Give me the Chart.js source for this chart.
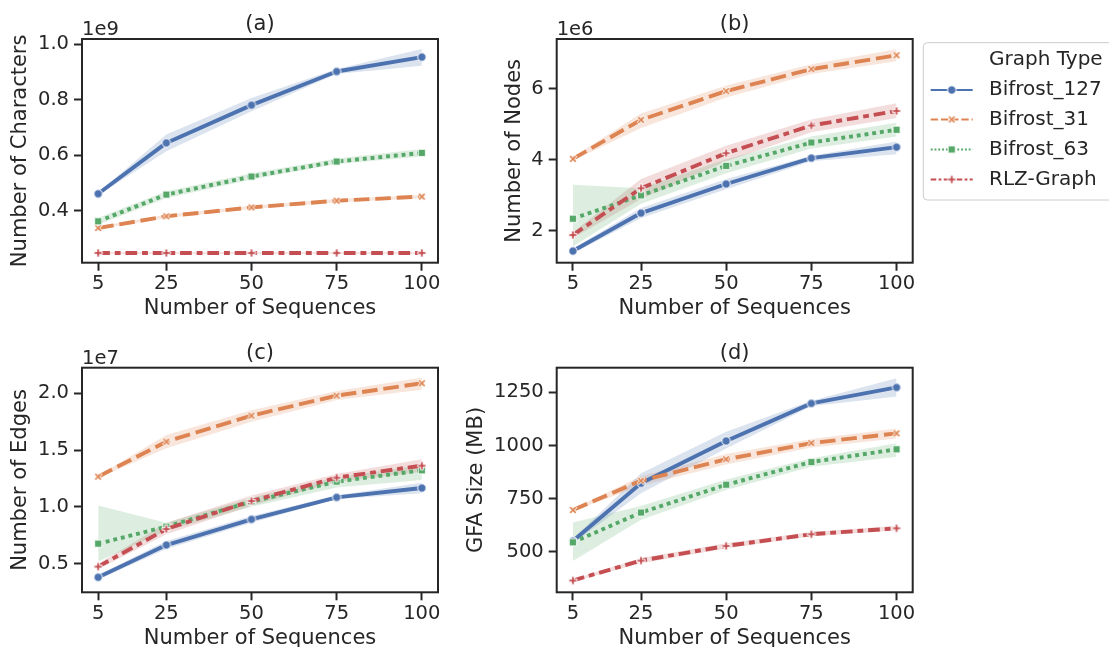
<!DOCTYPE html>
<html>
<head>
<meta charset="utf-8">
<script src="https://cdn.jsdelivr.net/npm/chart.js@4.4.0/dist/chart.umd.min.js"></script>
<style>
  body { margin: 0; background: #ffffff; }
  #wrap { position: relative; width: 1109px; height: 647px; overflow: hidden; }
  #wrap canvas { position: absolute; left: 0; top: 0; }
</style>
</head>
<body>
<div id="wrap">
  <canvas id="chartA" width="1109" height="680"></canvas>
  <canvas id="chartB" width="1109" height="680"></canvas>
  <canvas id="chartC" width="1109" height="680"></canvas>
  <canvas id="chartD" width="1109" height="680"></canvas>
</div>
<script>
const seqCounts = [5, 25, 50, 75, 100];
const xTicks = [5, 25, 50, 75, 100];
const graphTypes = ["Bifrost_127", "Bifrost_31", "Bifrost_63", "RLZ-Graph"];

// rows follow graphTypes; mean with lower / upper edge of the error band

// number of characters (x 1e9)
const charMean = [
  [0.461, 0.644, 0.780, 0.901, 0.953],
  [0.338, 0.380, 0.412, 0.436, 0.451],
  [0.362, 0.458, 0.523, 0.577, 0.608],
  [0.248, 0.248, 0.248, 0.248, 0.248],
];
const charLow = [
  [0.456, 0.614, 0.758, 0.892, 0.922],
  [0.333, 0.374, 0.406, 0.430, 0.445],
  [0.350, 0.445, 0.512, 0.568, 0.595],
  [0.245, 0.245, 0.245, 0.245, 0.245],
];
const charHigh = [
  [0.466, 0.674, 0.806, 0.910, 0.982],
  [0.343, 0.386, 0.418, 0.442, 0.457],
  [0.375, 0.470, 0.535, 0.588, 0.622],
  [0.251, 0.251, 0.251, 0.251, 0.251],
];
const charTicks = [0.4, 0.6, 0.8, 1.0];

// number of nodes (x 1e6)
const nodeMean = [
  [1.43, 2.50, 3.32, 4.05, 4.36],
  [4.03, 5.13, 5.94, 6.56, 6.95],
  [2.34, 3.00, 3.83, 4.49, 4.85],
  [1.88, 3.20, 4.19, 4.97, 5.38],
];
const nodeLow = [
  [1.36, 2.36, 3.17, 3.96, 4.16],
  [3.98, 4.90, 5.76, 6.42, 6.78],
  [1.56, 2.76, 3.62, 4.32, 4.66],
  [1.80, 2.90, 3.96, 4.78, 5.18],
];
const nodeHigh = [
  [1.50, 2.64, 3.46, 4.12, 4.52],
  [4.08, 5.31, 6.10, 6.70, 7.12],
  [3.30, 3.20, 4.02, 4.66, 5.05],
  [1.96, 3.46, 4.40, 5.14, 5.60],
];
const nodeTicks = [2, 4, 6];

// number of edges (x 1e7)
const edgeMean = [
  [0.380, 0.664, 0.890, 1.084, 1.166],
  [1.266, 1.574, 1.803, 1.979, 2.088],
  [0.676, 0.826, 1.046, 1.222, 1.322],
  [0.474, 0.805, 1.052, 1.257, 1.363],
];
const edgeLow = [
  [0.360, 0.630, 0.860, 1.070, 1.120],
  [1.255, 1.516, 1.750, 1.940, 2.030],
  [0.520, 0.790, 1.000, 1.170, 1.237],
  [0.450, 0.760, 1.010, 1.220, 1.310],
];
const edgeHigh = [
  [0.400, 0.700, 0.920, 1.100, 1.213],
  [1.277, 1.633, 1.850, 2.020, 2.138],
  [1.011, 0.860, 1.080, 1.260, 1.369],
  [0.500, 0.860, 1.100, 1.290, 1.419],
];
const edgeTicks = [0.5, 1.0, 1.5, 2.0];

// GFA file size in MB
const gfaMean = [
  [550, 822, 1021, 1198, 1273],
  [696, 834, 935, 1011, 1057],
  [544, 684, 815, 922, 982],
  [364, 458, 527, 582, 610],
];
const gfaLow = [
  [540, 775, 986, 1185, 1230],
  [690, 810, 910, 990, 1033],
  [456, 650, 790, 900, 947],
  [359, 445, 515, 572, 600],
];
const gfaHigh = [
  [560, 869, 1065, 1210, 1316],
  [702, 855, 960, 1030, 1080],
  [637, 715, 840, 940, 1010],
  [369, 470, 540, 592, 622],
];
const gfaTicks = [500, 750, 1000, 1250];

// seaborn "deep" palette
const lineColours = ["#4c72b0", "#dd8452", "#55a868", "#c44e52"];
const bandColours = [
  "rgba(76,114,176,0.2)",
  "rgba(221,132,82,0.2)",
  "rgba(85,168,104,0.2)",
  "rgba(196,78,82,0.2)",
];
const LW = 3.9;
const lineDashes = [[], [4 * LW, 1.5 * LW], [LW, LW], [3 * LW, 1.25 * LW, 1.5 * LW, 1.25 * LW]];
const legendDashes = [[], [7.4, 2.8], [1.9, 1.9], [5.6, 2.3, 2.8, 2.3]];

const FONT = "'DejaVu Sans', sans-serif";
const INK = "#262626";
const CANVAS_H = 680;
const TICK_SIZE = 19.5;
const LABEL_SIZE = 21;

// marker glyphs: filled circle, X, square, P with a thin white edge
function crossPoints(a, t) {
  return [[-t, -a], [t, -a], [t, -t], [a, -t], [a, t], [t, t], [t, a], [-t, a], [-t, t], [-a, t], [-a, -t], [-t, -t]];
}
function makeMarker(shape, colour) {
  const c = document.createElement("canvas");
  c.width = 14; c.height = 14;
  const g = c.getContext("2d");
  g.translate(7, 7);
  g.beginPath();
  if (shape === "circle") {
    g.arc(0, 0, 4.2, 0, Math.PI * 2);
  } else if (shape === "square") {
    g.rect(-3.7, -3.7, 7.4, 7.4);
  } else {
    const rot = shape === "x" ? Math.PI / 4 : 0;
    const pts = shape === "x" ? crossPoints(4.3, 1.15) : crossPoints(4.1, 1.3);
    pts.forEach((p, k) => {
      const x = p[0] * Math.cos(rot) - p[1] * Math.sin(rot);
      const y = p[0] * Math.sin(rot) + p[1] * Math.cos(rot);
      if (k === 0) g.moveTo(x, y); else g.lineTo(x, y);
    });
    g.closePath();
  }
  g.fillStyle = colour;
  g.fill();
  g.strokeStyle = "#ffffff";
  g.lineWidth = 1;
  g.stroke();
  return c;
}
const markers = [
  makeMarker("circle", lineColours[0]),
  makeMarker("x", lineColours[1]),
  makeMarker("square", lineColours[2]),
  makeMarker("plus", lineColours[3]),
];

const panels = [
  { id: "chartA", title: "(a)", yLabel: "Number of Characters", offset: "1e9",
    mean: charMean, low: charLow, high: charHigh, ticks: charTicks, decimals: 1,
    yMin: 0.213, yMax: 1.018, left: 82, right: 438, top: 39, bottom: 262.7, yTitleX: 21 },
  { id: "chartB", title: "(b)", yLabel: "Number of Nodes", offset: "1e6",
    mean: nodeMean, low: nodeLow, high: nodeHigh, ticks: nodeTicks, decimals: 0,
    yMin: 1.10, yMax: 7.41, left: 556.7, right: 912.7, top: 39, bottom: 262.7, yTitleX: 514.5, legend: true },
  { id: "chartC", title: "(c)", yLabel: "Number of Edges", offset: "1e7",
    mean: edgeMean, low: edgeLow, high: edgeHigh, ticks: edgeTicks, decimals: 1,
    yMin: 0.248, yMax: 2.225, left: 82, right: 438, top: 367.7, bottom: 592.3, yTitleX: 21 },
  { id: "chartD", title: "(d)", yLabel: "GFA Size (MB)", offset: "",
    mean: gfaMean, low: gfaLow, high: gfaHigh, ticks: gfaTicks, decimals: 0,
    yMin: 308.6, yMax: 1366, left: 556.7, right: 912.7, top: 367.7, bottom: 592.3, yTitleX: 477 },
];

function toPoints(values) {
  return seqCounts.map((x, k) => ({ x: x, y: values[k] }));
}

// frame, panel title, exponent text and (optionally) the legend
const decorPlugin = {
  id: "decor",
  afterDraw(chart, args, opts) {
    const ctx = chart.ctx;
    const a = chart.chartArea;
    ctx.save();
    ctx.strokeStyle = INK;
    ctx.lineWidth = 2;
    ctx.strokeRect(a.left, a.top, a.right - a.left, a.bottom - a.top);

    ctx.fillStyle = INK;
    ctx.font = LABEL_SIZE + "px " + FONT;
    ctx.textAlign = "center";
    ctx.textBaseline = "middle";
    ctx.fillText(opts.title, (a.left + a.right) / 2, a.top - 14);

    if (opts.offset) {
      ctx.font = TICK_SIZE + "px " + FONT;
      ctx.textAlign = "left";
      ctx.textBaseline = "alphabetic";
      ctx.fillText(opts.offset, a.left, a.top - 4);
    }

    if (opts.legend) {
      const bx = 923.3, by = 42.7, bw = 200, bh = 157.3, r = 4;
      ctx.beginPath();
      ctx.moveTo(bx + r, by);
      ctx.lineTo(bx + bw, by);
      ctx.lineTo(bx + bw, by + bh);
      ctx.lineTo(bx + r, by + bh);
      ctx.arcTo(bx, by + bh, bx, by + bh - r, r);
      ctx.lineTo(bx, by + r);
      ctx.arcTo(bx, by, bx + r, by, r);
      ctx.closePath();
      ctx.fillStyle = "rgba(255,255,255,0.8)";
      ctx.fill();
      ctx.strokeStyle = "#cccccc";
      ctx.lineWidth = 1;
      ctx.stroke();

      ctx.fillStyle = INK;
      ctx.font = "20px " + FONT;
      ctx.textAlign = "left";
      ctx.textBaseline = "middle";
      ctx.fillText("Graph Type", 989, 60);
      const rows = [90, 119.5, 149.5, 179.5];
      graphTypes.forEach((name, i) => {
        const y = rows[i];
        ctx.beginPath();
        ctx.setLineDash(legendDashes[i]);
        ctx.strokeStyle = lineColours[i];
        ctx.lineWidth = 2;
        ctx.moveTo(930.7, y);
        ctx.lineTo(972.7, y);
        ctx.stroke();
        ctx.setLineDash([]);
        ctx.drawImage(markers[i], 951.7 - 7, y - 7);
        ctx.fillStyle = INK;
        ctx.fillText(name, 989, y);
      });
    }
    ctx.restore();
  },
};

panels.forEach((p) => {
  const datasets = [];
  // error bands first, each one filled down to its lower edge
  graphTypes.forEach((name, i) => {
    datasets.push({
      data: toPoints(p.high[i]),
      fill: "+1",
      backgroundColor: bandColours[i],
      borderWidth: 0,
      pointRadius: 0,
      order: 10,
    });
    datasets.push({
      data: toPoints(p.low[i]),
      fill: false,
      borderWidth: 0,
      pointRadius: 0,
      order: 10,
    });
  });
  graphTypes.forEach((name, i) => {
    datasets.push({
      label: name,
      data: toPoints(p.mean[i]),
      borderColor: lineColours[i],
      backgroundColor: lineColours[i],
      borderWidth: LW,
      borderDash: lineDashes[i],
      borderJoinStyle: "round",
      borderCapStyle: i === 0 ? "round" : "butt",
      pointStyle: markers[i],
      pointRadius: 4,
      fill: false,
      tension: 0,
      order: 4 - i,
    });
  });

  const yTitleHalf = LABEL_SIZE * 1.2 / 2;
  const padLeft = p.yTitleX - yTitleHalf;
  const yWidth = p.left - padLeft;
  const xHeight = 58.6;

  new Chart(document.getElementById(p.id), {
    type: "line",
    plugins: [decorPlugin],
    data: { datasets: datasets },
    options: {
      responsive: false,
      animation: false,
      events: [],
      layout: {
        padding: {
          left: padLeft,
          right: 1109 - p.right,
          top: p.top,
          bottom: CANVAS_H - p.bottom - xHeight,
        },
      },
      plugins: {
        legend: { display: false },
        tooltip: { enabled: false },
        decor: { title: p.title, offset: p.offset, legend: !!p.legend },
      },
      scales: {
        x: {
          type: "linear",
          min: 0.25,
          max: 104.75,
          afterBuildTicks: (s) => { s.ticks = xTicks.map((v) => ({ value: v })); },
          afterFit: (s) => { s.height = xHeight; },
          ticks: {
            color: INK,
            font: { family: FONT, size: TICK_SIZE },
            padding: 1.5,
            maxRotation: 0,
            autoSkip: false,
            callback: (v) => String(v),
          },
          grid: { drawOnChartArea: false, drawTicks: true, tickLength: 8, tickWidth: 2, tickColor: INK },
          border: { display: false },
          title: {
            display: true,
            text: "Number of Sequences",
            color: INK,
            font: { family: FONT, size: LABEL_SIZE },
            padding: 0,
          },
        },
        y: {
          type: "linear",
          min: p.yMin,
          max: p.yMax,
          afterBuildTicks: (s) => { s.ticks = p.ticks.map((v) => ({ value: v })); },
          afterFit: (s) => { s.width = yWidth; },
          ticks: {
            color: INK,
            font: { family: FONT, size: TICK_SIZE },
            padding: 5,
            callback: (v) => Number(v).toFixed(p.decimals),
          },
          grid: { drawOnChartArea: false, drawTicks: true, tickLength: 8, tickWidth: 2, tickColor: INK },
          border: { display: false },
          title: {
            display: true,
            text: p.yLabel,
            color: INK,
            font: { family: FONT, size: LABEL_SIZE },
            padding: 0,
          },
        },
      },
    },
  });
});
</script>
</body>
</html>
